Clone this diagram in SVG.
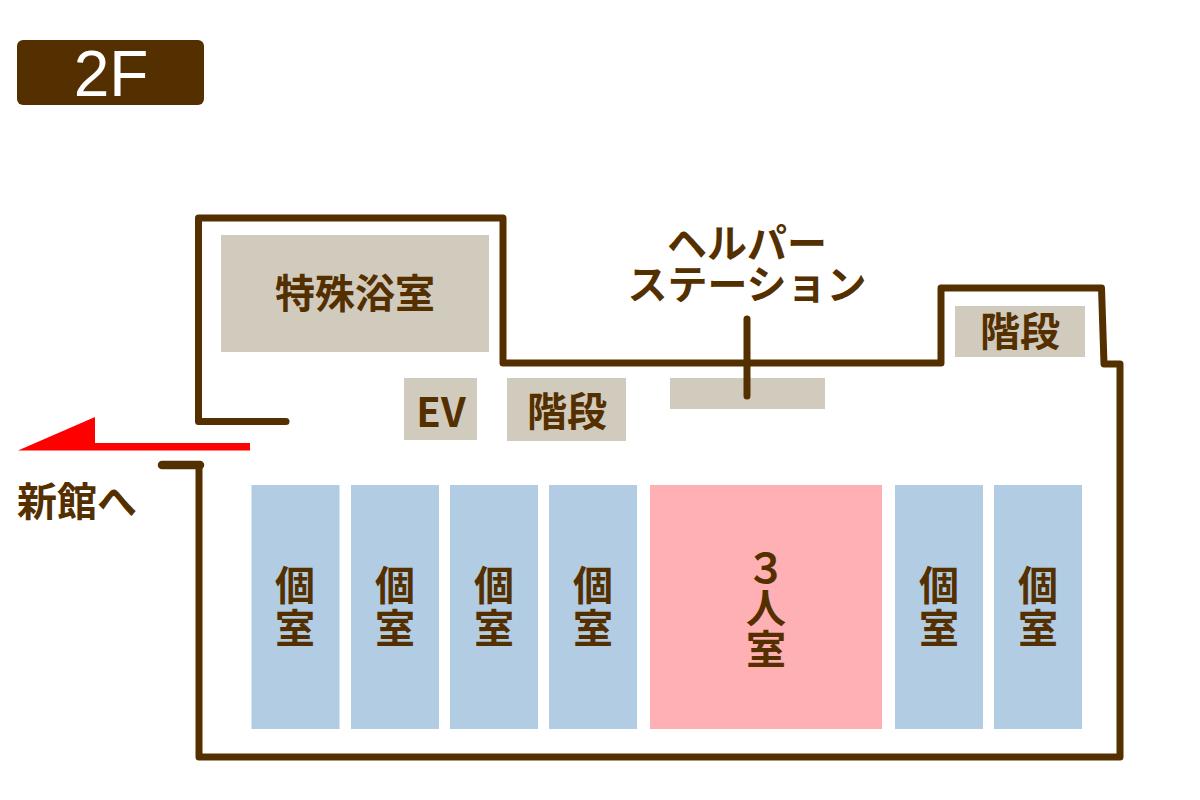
<svg xmlns="http://www.w3.org/2000/svg" width="1200" height="800" viewBox="0 0 1200 800">
<style>
text{font-family:"Noto Sans CJK JP","Liberation Sans",sans-serif;font-weight:700;fill:#543000;text-anchor:middle;font-size:40px}
.room{fill:#d1cbbd}
.ind{fill:#b2cce3}
.wall{fill:none;stroke:#543000;stroke-width:7;stroke-linecap:round;stroke-linejoin:round}
</style>
<rect width="1200" height="800" fill="#fff"/>
<g id="floor-label"><rect x="17" y="40" width="187" height="65" rx="6" fill="#543000"/><text x="111" y="96" style="font-size:64px;fill:#fff;font-weight:400;font-family:'Liberation Sans',sans-serif">2F</text></g>
<g id="bath"><rect class="room" x="221" y="235" width="268" height="117"/><text x="355" y="308">特殊浴室</text></g>
<g id="ev"><rect class="room" x="404" y="378" width="73" height="62"/><text x="441" y="427">EV</text></g>
<g id="stairs1"><rect class="room" x="507" y="378" width="119" height="63"/><text x="567" y="426">階段</text></g>
<g id="stairs2"><rect class="room" x="955" y="306" width="130" height="51"/><text x="1020" y="346">階段</text></g>
<g id="station"><rect class="room" x="670" y="378" width="155" height="31"/></g>
<g id="helper"><text><tspan x="747" y="258">ヘルパー</tspan><tspan x="747" y="299">ステーション</tspan></text></g>
<g id="to-annex"><text x="77" y="516">新館へ</text></g>
<g id="r1"><rect class="ind" x="251.500" y="485" width="88" height="244"/><text><tspan x="295" y="600">個</tspan><tspan x="295" y="643">室</tspan></text></g>
<g id="r2"><rect class="ind" x="351" y="485" width="88" height="244"/><text><tspan x="395" y="600">個</tspan><tspan x="395" y="643">室</tspan></text></g>
<g id="r3"><rect class="ind" x="450" y="485" width="88" height="244"/><text><tspan x="494" y="600">個</tspan><tspan x="494" y="643">室</tspan></text></g>
<g id="r4"><rect class="ind" x="549" y="485" width="88" height="244"/><text><tspan x="593" y="600">個</tspan><tspan x="593" y="643">室</tspan></text></g>
<g id="r5"><rect x="650" y="485" width="232" height="244" fill="#ffb0b5"/><text><tspan x="766" y="583">３</tspan><tspan x="766" y="623">人</tspan><tspan x="766" y="664">室</tspan></text></g>
<g id="r6"><rect class="ind" x="895" y="485" width="88" height="244"/><text><tspan x="939" y="600">個</tspan><tspan x="939" y="643">室</tspan></text></g>
<g id="r7"><rect class="ind" x="994" y="485" width="88" height="244"/><text><tspan x="1038" y="600">個</tspan><tspan x="1038" y="643">室</tspan></text></g>
<g id="connectors">
<path class="wall" d="M286 421.500H198.500V218H503V363H941V288H1101.500L1104 364H1120V757H199V465"/>
<path class="wall" style="stroke-width:8.500" d="M162 465H200"/>
<path class="wall" d="M747 319V396"/>
<polygon points="18,450.500 95,417 95,443 250,443 250,450.500" fill="#f00"/>
</g>
</svg>
